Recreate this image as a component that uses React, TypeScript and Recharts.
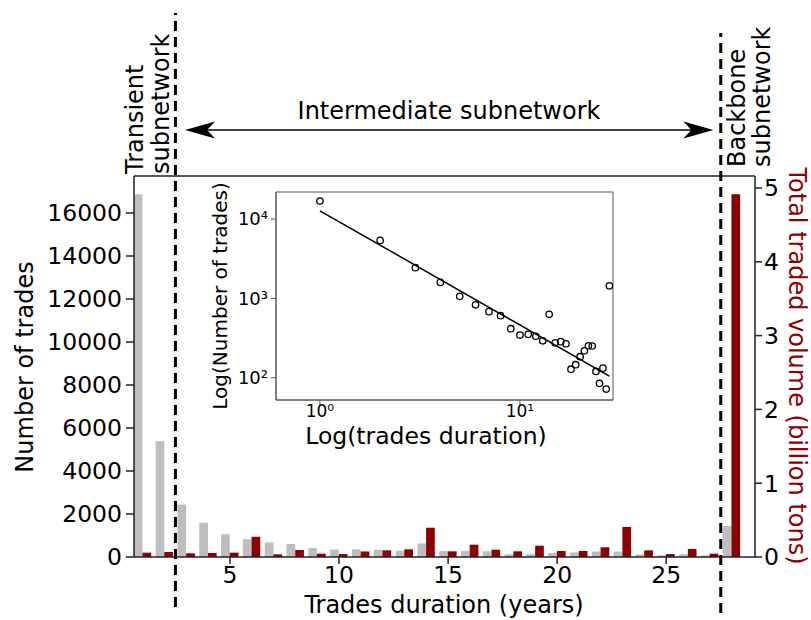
import React from 'react';
import {
    ComposedChart,
    Bar,
    Scatter,
    XAxis,
    YAxis,
    ReferenceLine,
    ReferenceDot,
    ReferenceArea,
} from 'recharts';

// ─── Data ─────────────────────────────────────────────────────────────────────

const durations = [
    1, 2, 3, 4, 5, 6, 7, 8, 9, 10, 11, 12, 13, 14, 15, 16, 17, 18, 19, 20, 21, 22, 23, 24, 25,
    26, 27, 28,
];

// number of trades per duration (left axis)
const tradeCounts = [
    16877, 5380, 2440, 1590, 1060, 830, 680, 605, 415, 345, 352, 333, 292, 630, 275, 285, 268,
    128, 146, 184, 218, 253, 251, 120, 85, 132, 72, 1440,
];

// total traded volume per duration, billion tons (right axis)
const tradedVolume = [
    0.059, 0.068, 0.05, 0.054, 0.059, 0.275, 0.036, 0.095, 0.045, 0.04, 0.075, 0.09, 0.104,
    0.397, 0.077, 0.167, 0.099, 0.077, 0.153, 0.081, 0.081, 0.132, 0.407, 0.09, 0.04, 0.108,
    0.045, 4.917,
];

// power-law fit in the inset (end points)
const fitDurations = [1, 28];
const fitCounts = [12700, 105];

const leftTicks = [0, 2000, 4000, 6000, 8000, 10000, 12000, 14000, 16000];
const rightTicks = [0, 1, 2, 3, 4, 5];
const xTicks = [5, 10, 15, 20, 25];

const insetXTicks = [1, 10];
const insetYTicks = [100, 1000, 10000];
const insetXMinor = [0.7, 0.8, 0.9, 2, 3, 4, 5, 6, 7, 8, 9, 20];
const insetYMinor = [
    60, 70, 80, 90, 200, 300, 400, 500, 600, 700, 800, 900, 2000, 3000, 4000, 5000, 6000, 7000,
    8000, 9000, 20000,
];

const rows = durations.map((d, i) => ({ d, trades: tradeCounts[i], volume: tradedVolume[i] }));
const insetPoints = durations.map((d, i) => ({ x: d, y: tradeCounts[i] }));
const fitPoints = fitDurations.map((d, i) => ({ x: d, y: fitCounts[i] }));

// ─── Style ────────────────────────────────────────────────────────────────────

const FONT = '"DejaVu Sans", sans-serif';
const GRAY = '#bebebe';
const RED = '#8b0000';
const AXIS = '#222';

const X_DOMAIN: [number, number] = [0.6, 29.07];
const LEFT_MAX = 17721;
const RIGHT_MAX = 5.163;

const SUP: Record<string, string> = { '0': '⁰', '1': '¹', '2': '²', '3': '³', '4': '⁴' };
const powerLabel = (v: number) => `10${SUP[String(Math.round(Math.log10(v)))] ?? ''}`;

// ─── Arrow heads ──────────────────────────────────────────────────────────────

const ArrowHead: React.FC<{ cx?: number; cy?: number; dir: 1 | -1 }> = ({ cx = 0, cy = 0, dir }) => {
    const l = 30 * dir;
    const n = 22 * dir;
    return (
        <path
            d={`M${cx},${cy} L${cx + l},${cy - 8.5} L${cx + n},${cy} L${cx + l},${cy + 8.5} Z`}
            fill="#000"
        />
    );
};

// ─── Inset ────────────────────────────────────────────────────────────────────

const Inset: React.FC = () => (
    <div style={{ position: 'absolute', left: 196, top: 180, width: 430, height: 275 }}>
        <ComposedChart width={430} height={275} margin={{ top: 12, right: 13, bottom: 10, left: 20 }}>
            <XAxis
                xAxisId="x"
                dataKey="x"
                type="number"
                scale="log"
                domain={[0.603, 29.2]}
                allowDataOverflow
                ticks={insetXTicks}
                tickFormatter={powerLabel}
                height={45}
                tickSize={5}
                tickMargin={0}
                stroke="#555"
                tick={{ fill: '#000', fontSize: 17, fontFamily: FONT }}
            />
            <XAxis
                xAxisId="xminor"
                type="number"
                scale="log"
                domain={[0.603, 29.2]}
                allowDataOverflow
                ticks={insetXMinor}
                tickFormatter={() => ''}
                height={0}
                tickSize={2.5}
                axisLine={false}
                stroke="#555"
            />
            <YAxis
                yAxisId="y"
                dataKey="y"
                type="number"
                scale="log"
                domain={[52.4, 21900]}
                allowDataOverflow
                ticks={insetYTicks}
                tickFormatter={powerLabel}
                width={60}
                tickSize={5}
                tickMargin={3}
                stroke="#555"
                tick={{ fill: '#000', fontSize: 18, fontFamily: FONT }}
            />
            <YAxis
                yAxisId="yminor"
                type="number"
                scale="log"
                domain={[52.4, 21900]}
                allowDataOverflow
                ticks={insetYMinor}
                tickFormatter={() => ''}
                width={0}
                tickSize={2.5}
                axisLine={false}
                stroke="#555"
            />
            <ReferenceArea
                xAxisId="x"
                yAxisId="y"
                x1={0.603}
                x2={29.2}
                y1={52.4}
                y2={21900}
                fill="none"
                stroke="#555"
                strokeWidth={1}
                ifOverflow="visible"
            />
            <Scatter
                xAxisId="x"
                yAxisId="y"
                data={fitPoints}
                line={{ stroke: '#000', strokeWidth: 1.5 }}
                shape={() => <g />}
                isAnimationActive={false}
            />
            <Scatter
                xAxisId="x"
                yAxisId="y"
                data={insetPoints}
                shape={(p: any) => (
                    <circle cx={p.cx} cy={p.cy} r={3.2} fill="none" stroke="#000" strokeWidth={1.3} />
                )}
                isAnimationActive={false}
            />
            <text
                x={230}
                y={264}
                textAnchor="middle"
                fontSize={23.5}
                fontFamily={FONT}
                fill="#000"
            >
                Log(trades duration)
            </text>
            <text
                transform="translate(31,116) rotate(-90)"
                textAnchor="middle"
                fontSize={20}
                fontFamily={FONT}
                fill="#000"
            >
                Log(Number of trades)
            </text>
        </ComposedChart>
    </div>
);

// ─── Component ────────────────────────────────────────────────────────────────

export default function App() {
    const tickStyle = { fill: '#000', fontSize: 23.5, fontFamily: FONT };
    const arrowY = 19860;

    return (
        <div style={{ position: 'absolute', left: 0, top: 0, width: 811, height: 620, background: '#fff' }}>
            <ComposedChart
                width={811}
                height={620}
                data={rows}
                margin={{ top: 176, right: 6, bottom: 13, left: 34 }}
                barGap={0}
            >
                <XAxis
                    dataKey="d"
                    type="number"
                    domain={X_DOMAIN}
                    allowDataOverflow
                    ticks={xTicks}
                    interval={0}
                    height={50}
                    tickSize={7}
                    tickMargin={2}
                    stroke={AXIS}
                    strokeWidth={1.5}
                    tick={tickStyle}
                />
                <YAxis
                    yAxisId="left"
                    domain={[0, LEFT_MAX]}
                    allowDataOverflow
                    ticks={leftTicks}
                    interval={0}
                    width={100}
                    tickSize={8}
                    tickMargin={4}
                    stroke={AXIS}
                    strokeWidth={1.5}
                    tick={tickStyle}
                />
                <YAxis
                    yAxisId="right"
                    orientation="right"
                    domain={[0, RIGHT_MAX]}
                    allowDataOverflow
                    ticks={rightTicks}
                    interval={0}
                    width={50}
                    tickSize={7}
                    tickMargin={2}
                    stroke={AXIS}
                    strokeWidth={1.5}
                    tick={tickStyle}
                />
                <Bar yAxisId="left" dataKey="trades" fill={GRAY} barSize={8.7} isAnimationActive={false} />
                <Bar yAxisId="right" dataKey="volume" fill={RED} barSize={8.7} isAnimationActive={false} />

                {/* top spine */}
                <ReferenceLine yAxisId="left" y={LEFT_MAX} stroke={AXIS} strokeWidth={1.5} ifOverflow="visible" />

                {/* subnetwork boundaries */}
                <ReferenceLine
                    yAxisId="left"
                    segment={[{ x: 2.5, y: -2325 }, { x: 2.5, y: 25300 }]}
                    stroke="#000"
                    strokeWidth={3}
                    strokeDasharray="10 6"
                    ifOverflow="visible"
                />
                <ReferenceLine
                    yAxisId="left"
                    segment={[{ x: 27.5, y: -2600 }, { x: 27.5, y: 24370 }]}
                    stroke="#000"
                    strokeWidth={3}
                    strokeDasharray="10 6"
                    ifOverflow="visible"
                />

                {/* double arrow */}
                <ReferenceLine
                    yAxisId="left"
                    segment={[{ x: 3.4, y: arrowY }, { x: 26.7, y: arrowY }]}
                    stroke="#000"
                    strokeWidth={1.5}
                    ifOverflow="visible"
                />
                <ReferenceDot
                    yAxisId="left"
                    x={2.94}
                    y={arrowY}
                    ifOverflow="visible"
                    shape={(p: any) => <ArrowHead cx={p.cx} cy={p.cy} dir={1} />}
                />
                <ReferenceDot
                    yAxisId="left"
                    x={27.16}
                    y={arrowY}
                    ifOverflow="visible"
                    shape={(p: any) => <ArrowHead cx={p.cx} cy={p.cy} dir={-1} />}
                />

                {/* annotations */}
                <g fontFamily={FONT} fontSize={24} fill="#000">
                    <text x={449} y={119} textAnchor="middle">
                        Intermediate subnetwork
                    </text>
                    <text transform="translate(143,174) rotate(-90)">Transient</text>
                    <text transform="translate(169,174) rotate(-90)">subnetwork</text>
                    <text transform="translate(745,167) rotate(-90)">Backbone</text>
                    <text transform="translate(770,167) rotate(-90)">subnetwork</text>
                    <text x={444} y={613} textAnchor="middle">
                        Trades duration (years)
                    </text>
                    <text transform="translate(33,367) rotate(-90)" textAnchor="middle">
                        Number of trades
                    </text>
                    <text transform="translate(789,366) rotate(90)" textAnchor="middle" fill={RED}>
                        Total traded volume (billion tons)
                    </text>
                </g>
            </ComposedChart>
            <Inset />
        </div>
    );
}
